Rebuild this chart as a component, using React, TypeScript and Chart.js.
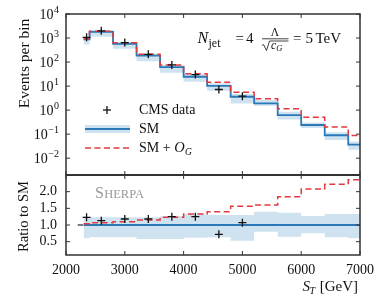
import React, { useEffect, useRef } from 'react';
import { Chart, registerables } from 'chart.js';

Chart.register(...registerables);

// ---- data ----
const binEdges = [2300, 2400, 2800, 3200, 3600, 4000, 4400, 4800, 5200, 5600, 6000, 6400, 6800, 7000];
const smEvents = [890, 1800, 570, 185, 62, 24.5, 10.2, 3.6, 1.9, 0.62, 0.24, 0.09, 0.037];
const smGEvents = [925, 1930, 630, 213, 76, 32.5, 14.3, 5.6, 3.0, 1.15, 0.5, 0.2, 0.087];
const bandLow = [0.6, 0.63, 0.63, 0.58, 0.58, 0.62, 0.63, 0.53, 0.8, 0.65, 0.75, 0.63, 0.6];
const bandHigh = [1.25, 1.23, 1.23, 1.23, 1.26, 1.32, 1.3, 1.3, 1.4, 1.37, 1.27, 1.33, 1.33];
const smGRatio = [1.04, 1.07, 1.1, 1.15, 1.23, 1.33, 1.4, 1.56, 1.6, 1.85, 2.08, 2.22, 2.36];
const dataST = [2350, 2600, 3000, 3400, 3800, 4200, 4600, 5000];
const dataEvents = [1070, 2000, 650, 210, 76, 30, 7.2, 3.8];
const dataRatio = [1.23, 1.13, 1.18, 1.18, 1.25, 1.25, 0.72, 1.07];

const xTicks = [2000, 3000, 4000, 5000, 6000, 7000];
const logTickExponents = [4, 3, 2, 1, 0, -1, -2];
const ratioTicks = [0.5, 1.0, 1.5, 2.0];

// ---- style ----
const SERIF = '"Liberation Serif", "DejaVu Serif", serif';
const BLUE = '#2a78b8';
const BAND = '#cfe2f0';
const RED = '#e3383e';
const AXIS = '#333333';
const DASH = [6, 3.5];

const LOG_TOP = 4;
const LOG_BOTTOM = -2.7;
const R_MIN = 0.1;
const R_MAX = 2.5;
const TOP_FRAC = 161 / 241;

const logMinFull = Math.pow(10, LOG_TOP - (LOG_TOP - LOG_BOTTOM) / TOP_FRAC);
const ratioMaxFull = R_MIN + (R_MAX - R_MIN) / (1 - TOP_FRAC);

function stepPoints(values: number[]) {
  return binEdges.map((x, i) => ({ x, y: values[Math.min(i, values.length - 1)] }));
}

const decorPlugin = {
  id: 'decor',
  afterDraw(chart: any) {
    const ctx: CanvasRenderingContext2D = chart.ctx;
    const { left, right, top, bottom } = chart.chartArea;
    const xs = chart.scales.x;
    const yl = chart.scales.y;
    const yr = chart.scales.yr;
    const split = yl.getPixelForValue(Math.pow(10, LOG_BOTTOM));

    const line = (x1: number, y1: number, x2: number, y2: number) => {
      ctx.beginPath();
      ctx.moveTo(x1, y1);
      ctx.lineTo(x2, y2);
      ctx.stroke();
    };
    const text = (
      s: string, x: number, y: number, size: number,
      align: CanvasTextAlign = 'left', base: CanvasTextBaseline = 'alphabetic',
      style = '', color = '#111'
    ) => {
      ctx.font = `${style} ${size}px ${SERIF}`;
      ctx.textAlign = align;
      ctx.textBaseline = base;
      ctx.fillStyle = color;
      ctx.fillText(s, x, y);
      return ctx.measureText(s).width;
    };
    const measure = (s: string, size: number, style = '') => {
      ctx.font = `${style} ${size}px ${SERIF}`;
      return ctx.measureText(s).width;
    };

    ctx.save();
    ctx.setLineDash([]);
    // frame
    ctx.strokeStyle = AXIS;
    ctx.lineWidth = 1.5;
    ctx.strokeRect(left, top, right - left, bottom - top);
    ctx.lineWidth = 2;
    line(left, split, right, split);

    // ticks
    ctx.lineWidth = 1;
    const TL = 4;
    xTicks.forEach((v) => {
      const px = xs.getPixelForValue(v);
      line(px, top, px, top + TL);
      line(px, split - TL, px, split + TL);
      line(px, bottom, px, bottom - TL);
      text(String(v), px, bottom + 15, 14, 'center', 'middle');
    });
    logTickExponents.forEach((e) => {
      const py = yl.getPixelForValue(Math.pow(10, e));
      line(left, py, left + TL, py);
      line(right, py, right - TL, py);
      const sup = e < 0 ? '\u2212' + Math.abs(e) : String(e);
      const supW = measure(sup, 10);
      text(sup, 59, py - 4, 10, 'right', 'middle');
      text('10', 59 - supW - 0.5, py + 1.5, 14, 'right', 'middle');
    });
    ratioTicks.forEach((v) => {
      const py = yr.getPixelForValue(v);
      line(left, py, left + TL, py);
      line(right, py, right - TL, py);
      text(v.toFixed(1), 57, py, 14, 'right', 'middle');
    });

    // axis titles
    ctx.save();
    ctx.translate(25, 63.5);
    ctx.rotate(-Math.PI / 2);
    text('Events per bin', 0, 0, 15.5, 'center', 'middle');
    ctx.restore();
    ctx.save();
    ctx.translate(24, 216.5);
    ctx.rotate(-Math.PI / 2);
    text('Ratio to SM', 0, 0, 14.5, 'center', 'middle');
    ctx.restore();

    // x title: S_T [GeV]
    {
      const wS = measure('S', 15, 'italic');
      const wT = measure('T', 10, 'italic');
      const wR = measure(' [GeV]', 15);
      const x0 = 358 - (wS + wT + 0.5 + wR);
      text('S', x0, 291, 15, 'left', 'alphabetic', 'italic');
      text('T', x0 + wS - 0.5, 294, 10, 'left', 'alphabetic', 'italic');
      text(' [GeV]', x0 + wS + wT + 0.5, 291, 15);
    }

    // annotation N_jet = 4   Λ/√c_G = 5 TeV
    {
      const wN = text('N', 197.5, 43, 16, 'left', 'alphabetic', 'italic');
      text('jet', 197.5 + wN + 0.3, 46.5, 12);
      text('=', 235.5, 43, 15);
      text('4', 246, 43, 15);
      // fraction
      text('\u039B', 275, 36, 11.5, 'center');
      ctx.strokeStyle = '#111';
      ctx.lineWidth = 0.8;
      line(262, 38.8, 288.5, 38.8);
      // radical
      ctx.beginPath();
      ctx.moveTo(262, 45.5);
      ctx.lineTo(263.6, 44.6);
      ctx.lineTo(266.5, 50.5);
      ctx.lineTo(269.5, 41);
      ctx.lineTo(288.5, 41);
      ctx.stroke();
      const wc = text('c', 271, 49, 11.5, 'left', 'alphabetic', 'italic');
      text('G', 271 + wc + 0.2, 51, 8.5, 'left', 'alphabetic', 'italic');
      text('=', 293, 43, 15);
      text('5', 305.5, 43, 15);
      text('TeV', 315.5, 43, 15);
    }

    // legend
    {
      ctx.strokeStyle = '#111';
      ctx.lineWidth = 1.3;
      line(103, 110, 111, 110);
      line(107, 106, 107, 114);
      text('CMS data', 139, 110, 14, 'left', 'middle');

      ctx.fillStyle = BAND;
      ctx.fillRect(85, 125, 45, 8);
      ctx.strokeStyle = BLUE;
      ctx.lineWidth = 1.8;
      line(85, 129, 130, 129);
      text('SM', 139, 129, 14, 'left', 'middle');

      ctx.strokeStyle = RED;
      ctx.lineWidth = 1.5;
      ctx.setLineDash(DASH);
      line(85, 148, 130, 148);
      ctx.setLineDash([]);
      const w1 = text('SM + ', 139, 148, 14, 'left', 'middle');
      const w2 = text('O', 139 + w1, 148, 14.5, 'left', 'middle', 'italic');
      text('G', 139 + w1 + w2 + 0.3, 152, 9.5, 'left', 'middle', 'italic');
    }

    // SHERPA
    {
      const wS = text('S', 95, 197.7, 16, 'left', 'alphabetic', '', '#9a9a9a');
      text('HERPA', 95 + wS + 0.3, 197.7, 12.5, 'left', 'alphabetic', '', '#9a9a9a');
    }
    ctx.restore();
  },
};

export default function App() {
  const canvasRef = useRef<HTMLCanvasElement | null>(null);

  useEffect(() => {
    const canvas = canvasRef.current;
    if (!canvas) return;
    const topBandLow = smEvents.map((v, i) => v * bandLow[i]);
    const topBandHigh = smEvents.map((v, i) => v * bandHigh[i]);
    const dataTop = dataST.map((x, i) => ({ x, y: dataEvents[i] }));
    const dataBottom = dataST.map((x, i) => ({ x, y: dataRatio[i] }));

    const stepBase = {
      stepped: 'before' as const,
      pointRadius: 0,
      tension: 0,
    };

    const chart = new Chart(canvas, {
      type: 'line',
      data: {
        datasets: [
          { ...stepBase, data: stepPoints(topBandLow), yAxisID: 'y', borderWidth: 0, borderColor: 'rgba(0,0,0,0)', fill: false, order: 6 },
          { ...stepBase, data: stepPoints(topBandHigh), yAxisID: 'y', borderWidth: 0, borderColor: 'rgba(0,0,0,0)', backgroundColor: BAND, fill: '-1', order: 6 },
          { ...stepBase, data: stepPoints(smEvents), yAxisID: 'y', borderColor: BLUE, borderWidth: 1.8, fill: false, order: 4 },
          { ...stepBase, data: stepPoints(smGEvents), yAxisID: 'y', borderColor: RED, borderWidth: 1.5, borderDash: DASH, fill: false, order: 3 },
          { data: dataTop, yAxisID: 'y', showLine: false, pointStyle: 'cross', pointRadius: 4, pointBorderColor: '#111', pointBorderWidth: 1.3, order: 1 },
          { ...stepBase, data: stepPoints(bandLow), yAxisID: 'yr', borderWidth: 0, borderColor: 'rgba(0,0,0,0)', fill: false, order: 6 },
          { ...stepBase, data: stepPoints(bandHigh), yAxisID: 'yr', borderWidth: 0, borderColor: 'rgba(0,0,0,0)', backgroundColor: BAND, fill: '-1', order: 6 },
          { data: [{ x: binEdges[0], y: 1 }, { x: binEdges[binEdges.length - 1], y: 1 }], yAxisID: 'yr', borderColor: BLUE, borderWidth: 2, pointRadius: 0, fill: false, order: 4 },
          { data: [{ x: 2200, y: 1 }, { x: 2290, y: 1 }], yAxisID: 'yr', borderColor: AXIS, borderWidth: 1.3, pointRadius: 0, fill: false, order: 4 },
          { ...stepBase, data: stepPoints(smGRatio), yAxisID: 'yr', borderColor: RED, borderWidth: 1.5, borderDash: DASH, fill: false, order: 3 },
          { data: dataBottom, yAxisID: 'yr', showLine: false, pointStyle: 'cross', pointRadius: 4, pointBorderColor: '#111', pointBorderWidth: 1.3, order: 1 },
        ] as any,
      },
      options: {
        responsive: false,
        devicePixelRatio: 1,
        animation: false,
        layout: { padding: { left: 66, right: 22, top: 14, bottom: 51 } },
        plugins: { legend: { display: false }, tooltip: { enabled: false } },
        events: [],
        scales: {
          x: { type: 'linear', min: 2000, max: 7000, display: false },
          y: { type: 'logarithmic', min: logMinFull, max: Math.pow(10, LOG_TOP), display: false },
          yr: { type: 'linear', min: R_MIN, max: ratioMaxFull, display: false },
        },
      },
      plugins: [decorPlugin],
    });
    return () => chart.destroy();
  }, []);

  return (
    <div style={{ position: 'absolute', left: 0, top: 0, width: 382, height: 306, background: '#fff' }}>
      <canvas ref={canvasRef} width={382} height={306} style={{ display: 'block' }} />
    </div>
  );
}
